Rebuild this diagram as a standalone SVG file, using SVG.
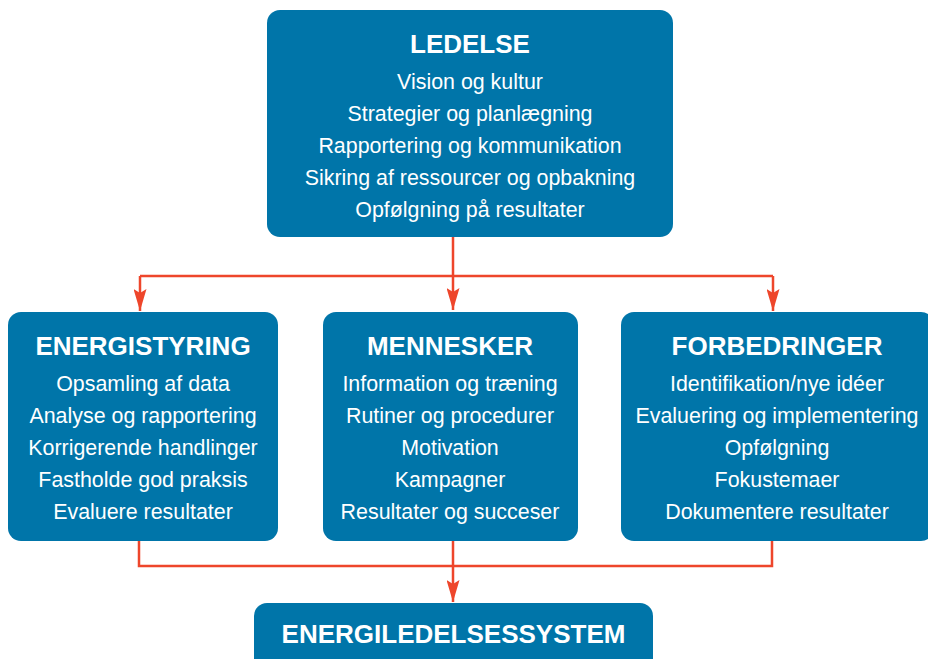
<svg xmlns="http://www.w3.org/2000/svg" width="928" height="659" viewBox="0 0 928 659">
<style>
.box{fill:#0075a9;}
.title{font-family:"Liberation Sans",Arial,Helvetica,sans-serif;font-weight:bold;font-size:26px;fill:#ffffff;text-anchor:middle;}
.item{font-family:"Liberation Sans",Arial,Helvetica,sans-serif;font-size:21.4px;fill:#ffffff;text-anchor:middle;}
.conn{fill:none;stroke:#ee462b;stroke-width:2.5;}
</style>
<defs>
<marker id="arr" markerUnits="userSpaceOnUse" markerWidth="22" markerHeight="13" refX="22" refY="6.5" viewBox="0 0 22 13" orient="auto">
<path d="M0,0 L22,6.5 L0,13 L4,6.5 Z" fill="#ee462b"/>
</marker>
</defs>
<rect width="928" height="659" fill="#ffffff"/>
<g id="connectors">
<path class="conn" d="M453,237 V310" marker-end="url(#arr)"/>
<path class="conn" d="M140,276 H773"/>
<path class="conn" d="M140,276 V311" marker-end="url(#arr)"/>
<path class="conn" d="M773,276 V311" marker-end="url(#arr)"/>
<path class="conn" d="M139,541 V566 H772 V541"/>
<path class="conn" d="M453,541 V602" marker-end="url(#arr)"/>
</g>
<g id="ledelse">
<rect class="box" x="267" y="10" width="406" height="227" rx="13"/>
<text class="title" x="470" y="53">LEDELSE</text>
<text class="item" x="470" y="89">Vision og kultur</text>
<text class="item" x="470" y="121">Strategier og planlægning</text>
<text class="item" x="470" y="153">Rapportering og kommunikation</text>
<text class="item" x="470" y="185">Sikring af ressourcer og opbakning</text>
<text class="item" x="470" y="217">Opfølgning på resultater</text>
</g>
<g id="energistyring">
<rect class="box" x="8" y="312" width="270" height="229" rx="13"/>
<text class="title" x="143" y="355">ENERGISTYRING</text>
<text class="item" x="143" y="391">Opsamling af data</text>
<text class="item" x="143" y="423">Analyse og rapportering</text>
<text class="item" x="143" y="455">Korrigerende handlinger</text>
<text class="item" x="143" y="487">Fastholde god praksis</text>
<text class="item" x="143" y="519">Evaluere resultater</text>
</g>
<g id="mennesker">
<rect class="box" x="323" y="312" width="255" height="229" rx="13"/>
<text class="title" x="450" y="355">MENNESKER</text>
<text class="item" x="450" y="391">Information og træning</text>
<text class="item" x="450" y="423">Rutiner og procedurer</text>
<text class="item" x="450" y="455">Motivation</text>
<text class="item" x="450" y="487">Kampagner</text>
<text class="item" x="450" y="519">Resultater og succeser</text>
</g>
<g id="forbedringer">
<rect class="box" x="621" y="312" width="313" height="229" rx="13"/>
<text class="title" x="777" y="355">FORBEDRINGER</text>
<text class="item" x="777" y="391">Identifikation/nye idéer</text>
<text class="item" x="777" y="423">Evaluering og implementering</text>
<text class="item" x="777" y="455">Opfølgning</text>
<text class="item" x="777" y="487">Fokustemaer</text>
<text class="item" x="777" y="519">Dokumentere resultater</text>
</g>
<g id="energiledelsessystem">
<rect class="box" x="254" y="603" width="399" height="70" rx="13"/>
<text class="title" x="453.5" y="643">ENERGILEDELSESSYSTEM</text>
</g>
</svg>
